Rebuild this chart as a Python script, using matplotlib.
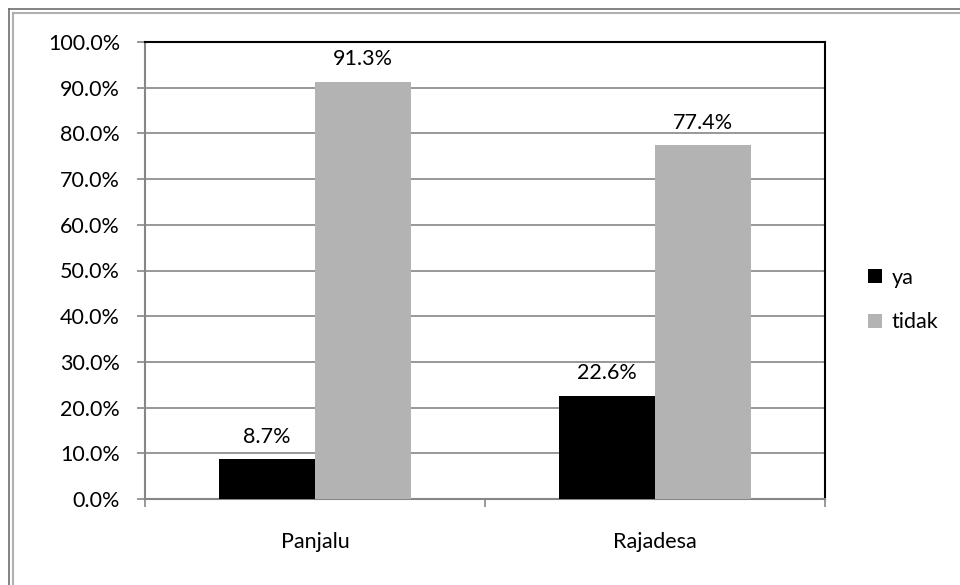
import matplotlib
matplotlib.use("Agg")
import matplotlib.pyplot as plt
from matplotlib.lines import Line2D
from matplotlib.ticker import FuncFormatter, MultipleLocator
import numpy as np

categories = ["Panjalu", "Rajadesa"]
series_names = ["ya", "tidak"]
ya = [8.7, 22.6]
tidak = [91.3, 77.4]
colors = ["#000000", "#b3b3b3"]

plt.rcParams['font.family'] = ['Lato', 'DejaVu Sans']
FS = 15.5

fig = plt.figure(figsize=(9.6, 5.85), dpi=100)
W, H = 960, 585
ax = fig.add_axes([145 / W, 1 - 499 / H, 680 / W, 457 / H])

x = np.arange(len(categories))
bw = 0.283
for i, (vals, name, c) in enumerate(zip([ya, tidak], series_names, colors)):
    pos = x + (i - 0.5) * bw
    ax.bar(pos, vals, width=bw, color=c, label=name, zorder=3)
    for p, v in zip(pos, vals):
        ax.annotate(f"{v:.1f}%", (p, v), xytext=(0, 12), textcoords="offset points",
                    ha="center", va="baseline", fontsize=FS, color="black")

ax.set_xlim(-0.5, len(categories) - 0.5)
ax.set_ylim(0, 100)
ax.yaxis.set_major_locator(MultipleLocator(10))
ax.yaxis.set_major_formatter(FuncFormatter(lambda v, _: f"{v:.1f}%"))
ax.set_xticks(x)
ax.set_xticklabels(categories)
ax.set_xticks([-0.5, 0.5, 1.5], minor=True)
ax.tick_params(axis="x", which="major", length=0, pad=24, labelsize=FS)
ax.tick_params(axis="x", which="minor", length=6, width=1.2, color="#868686", direction="out")
ax.tick_params(axis="y", length=6, width=1.2, color="#868686", labelsize=FS, pad=12)
ax.grid(axis="y", color="#868686", linewidth=1.2, zorder=0)
ax.set_axisbelow(True)
for s in ["left", "bottom"]:
    ax.spines[s].set_color("#868686")
    ax.spines[s].set_linewidth(1.5)
for s in ["top", "right"]:
    ax.spines[s].set_color("black")
    ax.spines[s].set_linewidth(1.5)

leg = fig.legend(loc="center left", bbox_to_anchor=(868 / W, 1 - 300 / H), frameon=False,
                 fontsize=FS, handlelength=0.65, handleheight=0.65, handletextpad=0.45,
                 labelspacing=1.15, borderpad=0, borderaxespad=0)

# frame lines along the top and left edges only (double line)
for off, col, lw in [(9, "#6e6e6e", 1.2), (12.5, "#b0b0b0", 1.5)]:
    fig.add_artist(Line2D([off / W, off / W], [0, 1 - off / H], transform=fig.transFigure,
                          color=col, linewidth=lw))
    fig.add_artist(Line2D([off / W, 1], [1 - off / H, 1 - off / H], transform=fig.transFigure,
                          color=col, linewidth=lw))

fig.savefig("out.png", dpi=100)
